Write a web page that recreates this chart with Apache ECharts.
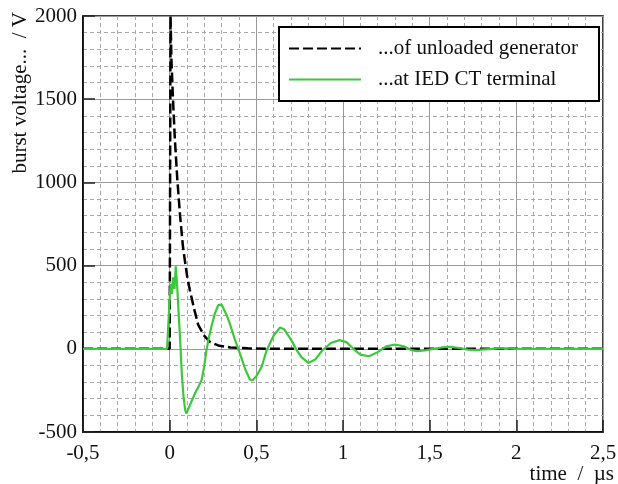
<!DOCTYPE html>
<html><head><meta charset="utf-8">
<script src="https://cdn.jsdelivr.net/npm/echarts@6/dist/echarts.min.js"></script>
<style>html,body{margin:0;padding:0;background:#fff}#c{width:618px;height:484px}</style>
</head><body><div id="c"></div>
<script>
const xTicks = [-0.5, 0, 0.5, 1, 1.5, 2, 2.5];
const xTickLabels = ['-0,5', '0', '0,5', '1', '1,5', '2', '2,5'];
const yTicks = [-500, 0, 500, 1000, 1500, 2000];
const yTickLabels = ['-500', '0', '500', '1000', '1500', '2000'];
const seriesNames = ['...of unloaded generator', '...at IED CT terminal'];

// unloaded generator (time µs, voltage V)
const genT = [-0.5, 0, 0.005, 0.01, 0.02, 0.03, 0.044, 0.06, 0.077, 0.1, 0.116, 0.14, 0.164, 0.2, 0.232, 0.28, 0.35, 0.45, 0.6, 1.0, 1.5, 2.0, 2.5];
const genV = [0, 0, 2000, 1740, 1480, 1260, 1020, 800, 610, 440, 355, 245, 145, 78, 42, 20, 8, 3, 0, 0, 0, 0, 0];

// at IED CT terminal (time µs, voltage V)
const iedT = [-0.5, -0.015, -0.005, 0.005, 0.012, 0.02, 0.028, 0.035, 0.042, 0.05, 0.06, 0.07, 0.08, 0.09, 0.097, 0.105, 0.12, 0.15, 0.17, 0.185, 0.2, 0.212, 0.225, 0.24, 0.26, 0.28, 0.29, 0.3, 0.33, 0.347, 0.375, 0.405, 0.435, 0.463, 0.477, 0.5, 0.53, 0.56, 0.6, 0.637, 0.66, 0.7, 0.733, 0.76, 0.8, 0.84, 0.88, 0.93, 0.98, 1.02, 1.06, 1.1, 1.15, 1.2, 1.25, 1.3, 1.35, 1.4, 1.43, 1.47, 1.52, 1.57, 1.62, 1.67, 1.72, 1.76, 1.82, 1.9, 1.95, 2.0, 2.5];
const iedV = [0, 0, 200, 390, 330, 430, 360, 495, 400, 250, 60, -150, -290, -370, -390, -385, -330, -260, -220, -185, -100, -10, 60, 130, 210, 262, 272, 265, 200, 152, 60, -28, -120, -185, -190, -165, -110, -8, 80, 128, 118, 55, -8, -50, -85, -65, -10, 35, 52, 40, 0, -35, -45, -20, 15, 26, 15, -10, -14, -10, 0, 8, 12, 5, -5, -8, -3, 2, 3, 0, 0];

const zip = (a, b) => a.map((v, i) => [v, b[i]]);
const serif = 'Liberation Serif';
const fs = 21;

const chart = echarts.init(document.getElementById('c'), null, {renderer: 'canvas'});
chart.setOption({
  animation: false,
  backgroundColor: '#fff',
  grid: {left: 83, top: 16, right: 15, bottom: 52, containLabel: false, outerBoundsMode: 'none',
         show: true, borderColor: '#000', borderWidth: 1.5, backgroundColor: 'transparent'},
  legend: {
    orient: 'vertical', left: 279, top: 27,
    padding: [10, 21, 10, 9],
    itemWidth: 72, itemHeight: 14, itemGap: 8,
    backgroundColor: '#fff', borderColor: '#000', borderWidth: 2,
    itemStyle: {opacity: 0},
    textStyle: {fontFamily: serif, fontSize: fs, color: '#111', lineHeight: 23, padding: [0, 0, 0, 12]},
    data: seriesNames
  },
  xAxis: {
    type: 'value', min: -0.5, max: 2.5, interval: 0.5,
    name: '\ntime  /  µs', nameLocation: 'end', nameGap: 11, nameMoveOverlap: false,
    nameTextStyle: {fontFamily: serif, fontSize: fs, color: '#111', align: 'right', verticalAlign: 'middle', lineHeight: 84},
    axisLine: {onZero: false, lineStyle: {color: '#000', width: 1.5}},
    axisTick: {show: true, inside: true, length: 12, lineStyle: {color: '#222', width: 1.5}},
    axisLabel: {fontFamily: serif, fontSize: fs, color: '#111', margin: 11, formatter: v => { const i = xTicks.findIndex(t => Math.abs(t - v) < 1e-9); return i >= 0 ? xTickLabels[i] : ''; }},
    splitLine: {show: true, lineStyle: {color: '#9a9a9a', width: 1}},
    minorTick: {show: false, splitNumber: 5},
    minorSplitLine: {show: true, lineStyle: {color: '#a8a8a8', width: 1, type: [4, 3]}}
  },
  yAxis: {
    type: 'value', min: -500, max: 2000, interval: 500,
    name: 'burst voltage...  / V\n', nameLocation: 'end', nameGap: 4, nameRotate: 90, nameMoveOverlap: false,
    nameTextStyle: {fontFamily: serif, fontSize: fs, color: '#111', align: 'right', verticalAlign: 'middle', lineHeight: 126},
    axisLine: {onZero: false, lineStyle: {color: '#000', width: 1.5}},
    axisTick: {show: true, inside: true, length: 12, lineStyle: {color: '#222', width: 1.5}},
    axisLabel: {fontFamily: serif, fontSize: fs, color: '#111', margin: 6, formatter: v => { const i = yTicks.indexOf(v); return i >= 0 ? yTickLabels[i] : ''; }},
    splitLine: {show: true, lineStyle: {color: '#9a9a9a', width: 1}},
    minorTick: {show: false, splitNumber: 5},
    minorSplitLine: {show: true, lineStyle: {color: '#a8a8a8', width: 1, type: [4, 3]}}
  },
  series: [
    {name: seriesNames[0], type: 'line', data: zip(genT, genV), showSymbol: false, symbol: 'none', z: 3,
     lineStyle: {color: '#000', width: 2.5, type: [10, 4]}, itemStyle: {color: '#000'}},
    {name: seriesNames[1], type: 'line', data: zip(iedT, iedV), showSymbol: false, symbol: 'none', z: 4,
     lineStyle: {color: '#3cc83c', width: 2.2}, itemStyle: {color: '#3cc83c'}}
  ]
});
</script></body></html>
